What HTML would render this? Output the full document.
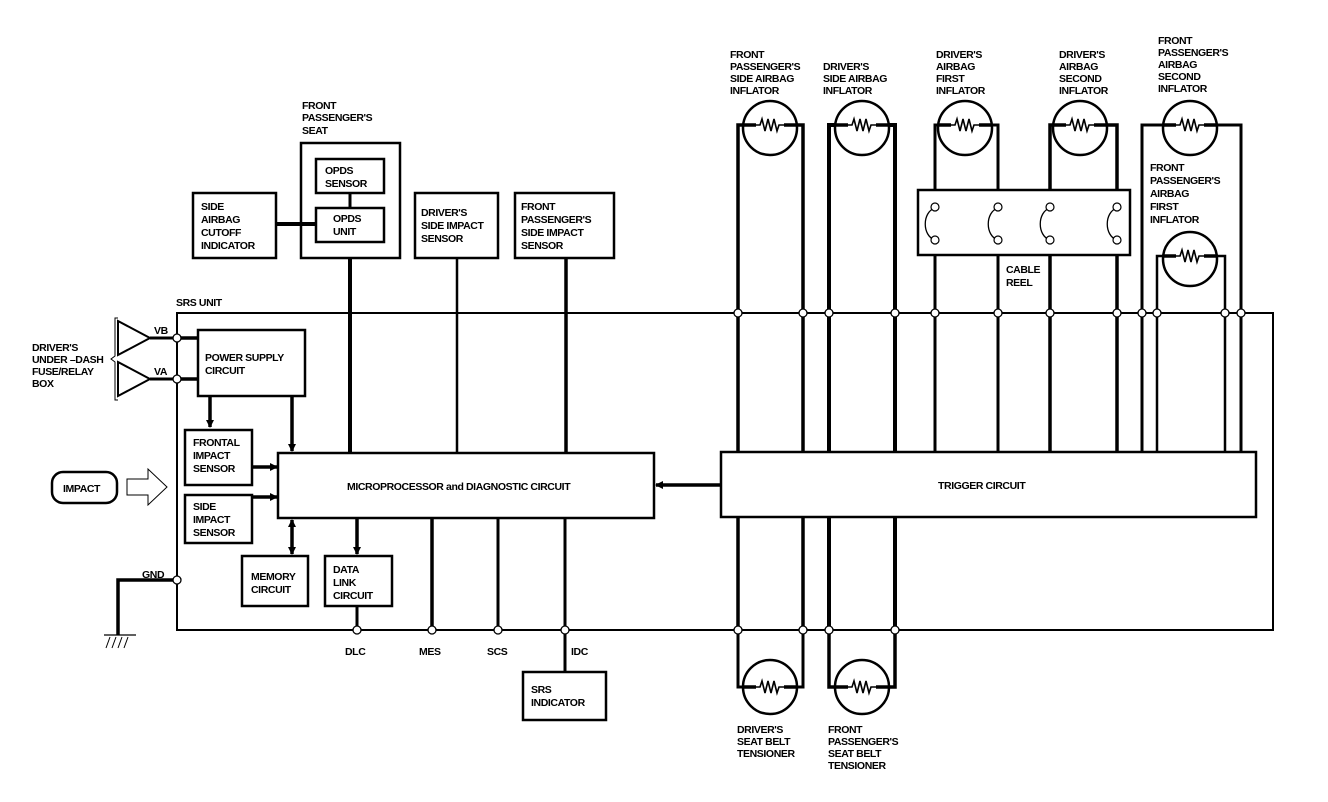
<!DOCTYPE html>
<html><head><meta charset="utf-8"><style>
html,body{margin:0;padding:0;background:#fff;}
svg{display:block;}
text{font-family:"Liberation Sans",sans-serif;font-weight:bold;font-size:10.5px;fill:#000;letter-spacing:-0.4px;}
</style></head><body>
<svg width="1328" height="802" viewBox="0 0 1328 802" xmlns="http://www.w3.org/2000/svg">
<defs>
<marker id="ar" markerWidth="8" markerHeight="8" refX="7" refY="4" orient="auto" markerUnits="userSpaceOnUse"><path d="M0,0 L8,4 L0,8 z" fill="#000"/></marker>
<marker id="ars" markerWidth="8" markerHeight="8" refX="1" refY="4" orient="auto" markerUnits="userSpaceOnUse"><path d="M8,0 L0,4 L8,8 z" fill="#000"/></marker>
<g id="res"><path d="M-16,0 L-10,0 L-8,-6 L-5,6 L-2,-6 L1,6 L4,-6 L7,6 L9,0 L16,0" fill="none" stroke="#000" stroke-width="1.6"/></g>
</defs>
<g fill="none" stroke="#000">
<rect x="177" y="313" width="1096" height="317" stroke-width="2"/>
<rect x="193" y="193" width="83" height="65" stroke-width="2.5"/>
<rect x="301" y="143" width="99" height="115" stroke-width="2.5"/>
<rect x="316" y="159" width="68" height="34" stroke-width="2.5"/>
<rect x="316" y="208" width="68" height="34" stroke-width="2.5"/>
<line x1="350" y1="193" x2="350" y2="208" stroke-width="3"/>
<line x1="276" y1="224" x2="316" y2="224" stroke-width="4"/>
<line x1="350" y1="258" x2="350" y2="453" stroke-width="4"/>
<rect x="415" y="193" width="83" height="65" stroke-width="2.5"/>
<line x1="457" y1="258" x2="457" y2="453" stroke-width="2.5"/>
<rect x="515" y="193" width="99" height="65" stroke-width="2.5"/>
<line x1="566" y1="258" x2="566" y2="453" stroke-width="3.5"/>
<rect x="198" y="330" width="107" height="66" stroke-width="2.5"/>
<line x1="177" y1="338" x2="198" y2="338" stroke-width="3.5"/>
<line x1="177" y1="379" x2="198" y2="379" stroke-width="3.5"/>
<line x1="150" y1="338" x2="177" y2="338" stroke-width="3"/>
<line x1="150" y1="379" x2="177" y2="379" stroke-width="3"/>
<path d="M118,321 L150,338 L118,355 Z" stroke-width="2"/>
<path d="M118,362 L150,379 L118,396 Z" stroke-width="2"/>
<path d="M118,318 L115,318 L115,356 L111,359 L115,362 L115,400 L118,400" stroke-width="1"/>
<line x1="210" y1="396" x2="210" y2="427" stroke-width="3.5" marker-end="url(#ar)"/>
<line x1="292" y1="396" x2="292" y2="451" stroke-width="3.5" marker-end="url(#ar)"/>
<rect x="185" y="430" width="67" height="55" stroke-width="2.5"/>
<rect x="185" y="495" width="67" height="48" stroke-width="2.5"/>
<line x1="252" y1="467" x2="277" y2="467" stroke-width="3.5" marker-end="url(#ar)"/>
<line x1="252" y1="497" x2="277" y2="497" stroke-width="3.5" marker-end="url(#ar)"/>
<rect x="52" y="472" width="65" height="31" rx="11" stroke-width="2.5"/>
<path d="M127,479 L148,479 L148,469 L167,487 L148,505 L148,495 L127,495 Z" stroke-width="1"/>
<rect x="278" y="453" width="376" height="65" stroke-width="2.5" fill="#fff"/>
<line x1="292" y1="520" x2="292" y2="554" stroke-width="3.5" marker-end="url(#ar)" marker-start="url(#ars)"/>
<line x1="357" y1="518" x2="357" y2="554" stroke-width="3.5" marker-end="url(#ar)"/>
<rect x="242" y="556" width="66" height="50" stroke-width="2.5"/>
<rect x="325" y="556" width="67" height="50" stroke-width="2.5"/>
<line x1="357" y1="606" x2="357" y2="630" stroke-width="3"/>
<line x1="432" y1="518" x2="432" y2="630" stroke-width="3.5"/>
<line x1="498" y1="518" x2="498" y2="630" stroke-width="3"/>
<line x1="565" y1="518" x2="565" y2="672" stroke-width="3"/>
<rect x="523" y="672" width="83" height="48" stroke-width="2.5"/>
<path d="M177,580 L118,580 L118,635" stroke-width="3.5"/>
<line x1="104" y1="635" x2="136" y2="635" stroke-width="1.2"/>
<path d="M106,648 L110,637 M112,648 L116,637 M118,648 L122,637 M124,648 L128,637" stroke-width="1"/>
<line x1="721" y1="485" x2="656" y2="485" stroke-width="3.5" marker-end="url(#ar)"/>
<path d="M738,630 L738,125 L803,125 L803,630" stroke-width="3.5"/>
<path d="M829,630 L829,125 L895,125 L895,630" stroke-width="4"/>
<path d="M935,452 L935,125 L998,125 L998,452" stroke-width="3"/>
<path d="M1050,452 L1050,125 L1117,125 L1117,452" stroke-width="3.5"/>
<path d="M1142,452 L1142,125 L1241,125 L1241,452" stroke-width="3"/>
<path d="M1157,452 L1157,256 L1225,256 L1225,452" stroke-width="2.5"/>
<rect x="918" y="190" width="212" height="65" stroke-width="2.5" fill="#fff"/>
</g>
<g stroke="#fff" stroke-width="6">
<line x1="935" y1="211" x2="935" y2="236"/><line x1="998" y1="211" x2="998" y2="236"/>
<line x1="1050" y1="211" x2="1050" y2="236"/><line x1="1117" y1="211" x2="1117" y2="236"/>
</g>
<g fill="none" stroke="#000" stroke-width="1.3">
<path d="M935,208 C922,212 922,236 935,240"/><path d="M998,208 C985,212 985,236 998,240"/>
<path d="M1050,208 C1037,212 1037,236 1050,240"/><path d="M1117,208 C1104,212 1104,236 1117,240"/>
</g>
<g fill="#fff" stroke="#000" stroke-width="1.2">
<circle cx="935" cy="207" r="4"/><circle cx="935" cy="240" r="4"/>
<circle cx="998" cy="207" r="4"/><circle cx="998" cy="240" r="4"/>
<circle cx="1050" cy="207" r="4"/><circle cx="1050" cy="240" r="4"/>
<circle cx="1117" cy="207" r="4"/><circle cx="1117" cy="240" r="4"/>
</g>
<rect x="721" y="452" width="535" height="65" fill="#fff" stroke="#000" stroke-width="2.5"/>
<g fill="none" stroke="#000">
<path d="M738,630 L738,687 L803,687 L803,630" stroke-width="3"/>
<path d="M829,630 L829,687 L895,687 L895,630" stroke-width="3.5"/>
</g>
<g fill="#fff" stroke="#000" stroke-width="2.5">
<circle cx="770" cy="128" r="27"/><circle cx="862" cy="128" r="27"/>
<circle cx="965" cy="128" r="27"/><circle cx="1080" cy="128" r="27"/>
<circle cx="1190" cy="128" r="27"/><circle cx="1190" cy="259" r="27"/>
<circle cx="770" cy="687" r="27"/><circle cx="862" cy="687" r="27"/>
</g>
<g stroke="#000" stroke-width="3.5">
<line x1="743" y1="125" x2="756" y2="125"/><line x1="784" y1="125" x2="797" y2="125"/>
<line x1="835" y1="125" x2="848" y2="125"/><line x1="876" y1="125" x2="889" y2="125"/>
<line x1="938" y1="125" x2="951" y2="125"/><line x1="979" y1="125" x2="992" y2="125"/>
<line x1="1053" y1="125" x2="1066" y2="125"/><line x1="1094" y1="125" x2="1107" y2="125"/>
<line x1="1163" y1="125" x2="1176" y2="125"/><line x1="1204" y1="125" x2="1217" y2="125"/>
<line x1="1163" y1="256" x2="1176" y2="256"/><line x1="1204" y1="256" x2="1217" y2="256"/>
<line x1="743" y1="687" x2="756" y2="687"/><line x1="784" y1="687" x2="797" y2="687"/>
<line x1="835" y1="687" x2="848" y2="687"/><line x1="876" y1="687" x2="889" y2="687"/>
</g>
<use href="#res" x="770" y="125"/><use href="#res" x="862" y="125"/>
<use href="#res" x="965" y="125"/><use href="#res" x="1080" y="125"/>
<use href="#res" x="1190" y="125"/><use href="#res" x="1190" y="256"/>
<use href="#res" x="770" y="687"/><use href="#res" x="862" y="687"/>
<g fill="#fff" stroke="#000" stroke-width="1.3">
<circle cx="177" cy="338" r="4"/><circle cx="177" cy="379" r="4"/><circle cx="177" cy="580" r="4"/>
<circle cx="357" cy="630" r="4"/><circle cx="432" cy="630" r="4"/><circle cx="498" cy="630" r="4"/><circle cx="565" cy="630" r="4"/>
<circle cx="738" cy="313" r="4"/><circle cx="803" cy="313" r="4"/><circle cx="829" cy="313" r="4"/><circle cx="895" cy="313" r="4"/>
<circle cx="935" cy="313" r="4"/><circle cx="998" cy="313" r="4"/><circle cx="1050" cy="313" r="4"/><circle cx="1117" cy="313" r="4"/>
<circle cx="1142" cy="313" r="4"/><circle cx="1157" cy="313" r="4"/><circle cx="1225" cy="313" r="4"/><circle cx="1241" cy="313" r="4"/>
<circle cx="738" cy="630" r="4"/><circle cx="803" cy="630" r="4"/><circle cx="829" cy="630" r="4"/><circle cx="895" cy="630" r="4"/>
</g>
<text x="302" y="109">FRONT</text><text x="302" y="121">PASSENGER'S</text><text x="302" y="134">SEAT</text>
<text x="325" y="174">OPDS</text><text x="325" y="187">SENSOR</text>
<text x="333" y="222">OPDS</text><text x="333" y="235">UNIT</text>
<text x="201" y="210">SIDE</text><text x="201" y="223">AIRBAG</text><text x="201" y="236">CUTOFF</text><text x="201" y="249">INDICATOR</text>
<text x="421" y="216">DRIVER'S</text><text x="421" y="229">SIDE IMPACT</text><text x="421" y="242">SENSOR</text>
<text x="521" y="210">FRONT</text><text x="521" y="223">PASSENGER'S</text><text x="521" y="236">SIDE IMPACT</text><text x="521" y="249">SENSOR</text>
<text x="176" y="306">SRS UNIT</text>
<text x="154" y="334">VB</text><text x="154" y="375">VA</text>
<text x="32" y="351">DRIVER'S</text><text x="32" y="363">UNDER –DASH</text><text x="32" y="375">FUSE/RELAY</text><text x="32" y="387">BOX</text>
<text x="205" y="361">POWER SUPPLY</text><text x="205" y="374">CIRCUIT</text>
<text x="193" y="446">FRONTAL</text><text x="193" y="459">IMPACT</text><text x="193" y="472">SENSOR</text>
<text x="193" y="510">SIDE</text><text x="193" y="523">IMPACT</text><text x="193" y="536">SENSOR</text>
<text x="63" y="492">IMPACT</text>
<text x="347" y="490">MICROPROCESSOR and DIAGNOSTIC CIRCUIT</text>
<text x="938" y="489">TRIGGER CIRCUIT</text>
<text x="251" y="580">MEMORY</text><text x="251" y="593">CIRCUIT</text>
<text x="333" y="573">DATA</text><text x="333" y="586">LINK</text><text x="333" y="599">CIRCUIT</text>
<text x="142" y="578">GND</text>
<text x="345" y="655">DLC</text><text x="419" y="655">MES</text><text x="487" y="655">SCS</text><text x="571" y="655">IDC</text>
<text x="531" y="693">SRS</text><text x="531" y="706">INDICATOR</text>
<text x="730" y="58">FRONT</text><text x="730" y="70">PASSENGER'S</text><text x="730" y="82">SIDE AIRBAG</text><text x="730" y="94">INFLATOR</text>
<text x="823" y="70">DRIVER'S</text><text x="823" y="82">SIDE AIRBAG</text><text x="823" y="94">INFLATOR</text>
<text x="936" y="58">DRIVER'S</text><text x="936" y="70">AIRBAG</text><text x="936" y="82">FIRST</text><text x="936" y="94">INFLATOR</text>
<text x="1059" y="58">DRIVER'S</text><text x="1059" y="70">AIRBAG</text><text x="1059" y="82">SECOND</text><text x="1059" y="94">INFLATOR</text>
<text x="1158" y="44">FRONT</text><text x="1158" y="56">PASSENGER'S</text><text x="1158" y="68">AIRBAG</text><text x="1158" y="80">SECOND</text><text x="1158" y="92">INFLATOR</text>
<text x="1150" y="171">FRONT</text><text x="1150" y="184">PASSENGER'S</text><text x="1150" y="197">AIRBAG</text><text x="1150" y="210">FIRST</text><text x="1150" y="223">INFLATOR</text>
<text x="1006" y="273">CABLE</text><text x="1006" y="286">REEL</text>
<text x="737" y="733">DRIVER'S</text><text x="737" y="745">SEAT BELT</text><text x="737" y="757">TENSIONER</text>
<text x="828" y="733">FRONT</text><text x="828" y="745">PASSENGER'S</text><text x="828" y="757">SEAT BELT</text><text x="828" y="769">TENSIONER</text>
</svg>
</body></html>
